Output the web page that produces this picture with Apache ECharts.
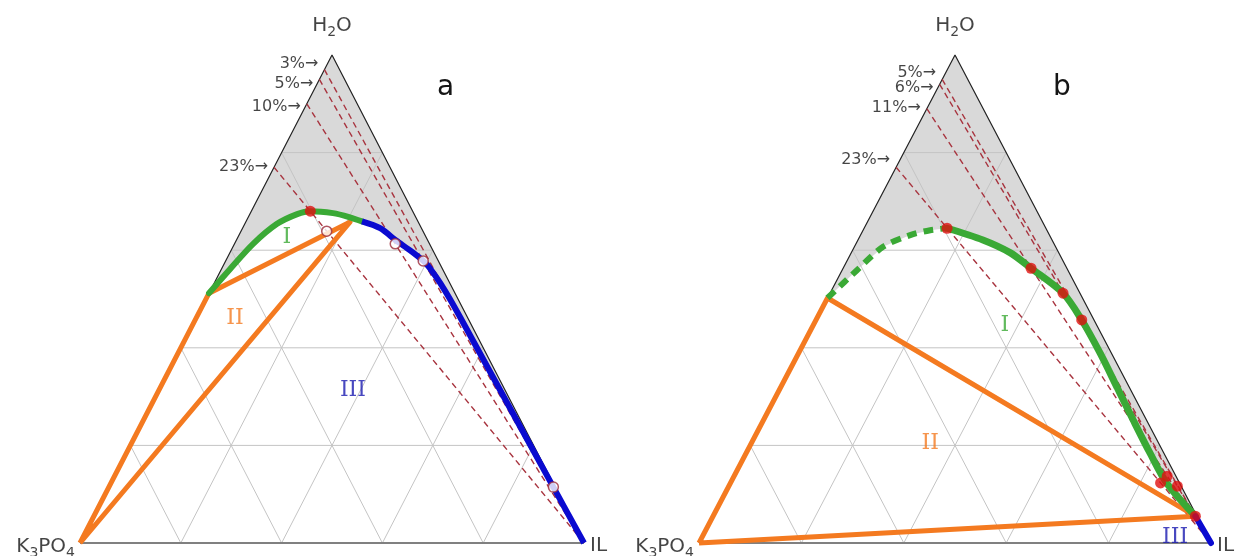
<!DOCTYPE html>
<html>
<head>
<meta charset="utf-8">
<script src="https://cdn.jsdelivr.net/npm/echarts@6/dist/echarts.min.js"></script>
<style>
  html, body { margin: 0; padding: 0; background: #fff; }
  #chart { width: 1243px; height: 556px; }
</style>
</head>
<body>
<div id="chart"></div>
<script>
  // compositions are [K3PO4 wt%, IL wt%], water = 100 - both
  const gridTicks = [20, 40, 60, 80];

  // panel a
  const feedA = [3, 5, 10, 23];
  const feedLabelsA = ['3%→', '5%→', '10%→', '23%→'];
  const greenA = [[48.8, 0], [42.2, 1.7], [35.0, 3.7], [28.2, 6.4], [23.2, 9.4], [20.3, 11.7], [16.0, 16.4], [13.2, 20.0], [11.1, 23.0]];
  const blueA = [[11.1, 23.0], [8.2, 27.3], [6.3, 31.7], [4.4, 35.8], [2.8, 39.7], [2.3, 42.0], [1.9, 44.8], [1.6, 48.5], [1.45, 52.2], [0.35, 88.2], [0, 100]];
  const threePhaseA = [[100, 0], [48.8, 0], [13.5, 20.7], [100, 0]];
  const redA = [[20.3, 11.7]];
  const openA = [[19.1, 17.0], [6.8, 31.9], [3.0, 39.2], [0.35, 88.2]];

  // panel b
  const feedB = [5, 6, 11, 23];
  const feedLabelsB = ['5%→', '6%→', '11%→', '23%→'];
  const greenDashB = [[49.8, 0], [41.2, 2.9], [33.7, 5.6], [27.2, 9.7], [22.8, 13.1], [19.3, 16.2]];
  const greenB = [[19.3, 16.2], [13.5, 24.4], [9.5, 31.0], [7.0, 36.7], [3.3, 45.5], [2.4, 51.9], [2.2, 58.9], [2.4, 65.7], [2.6, 72.2], [2.7, 78.9], [2.5, 85.3], [0.3, 94.2]];
  const blueB = [[0.3, 94.2], [0, 100]];
  const threePhaseB = [[100, 0], [49.8, 0], [0.3, 94.2], [100, 0]];
  const redB = [[19.3, 16.2], [7.0, 36.7], [3.3, 45.5], [2.4, 51.9], [3.7, 84.0], [1.7, 84.6], [0.75, 87.6], [0.3, 94.2]];

  // region numerals
  const regionNames = ['I', 'II', 'III'];
  const regionPosA = [[27.6, 9.7], [46.2, 7.7], [30.2, 38.5]];
  const regionPosB = [[17.9, 37.4], [44.6, 34.9], [6.4, 92.4]];

  const vertexNames = ['{n|H}{s|2}{n|O}', '{n|K}{s|3}{n|PO}{s|4}', '{n|IL}'];
  const vertexPos = [[0, 0], [100, 0], [0, 100]];

  // ternary -> cartesian (base 0..1, height 0..1)
  function tern(p) {
    const w = 100 - p[0] - p[1];
    return [(p[1] + w / 2) / 100, w / 100];
  }

  const GREEN = '#3aa935', ORANGE = '#f47a20', BLUE = '#0a0ad0', RED = '#e01010', DASH = '#a8343f';
  const FONT = 'DejaVu Sans';
  const TEXT = '#151515';

  function gridSegments() {
    const segs = [];
    gridTicks.forEach(t => {
      segs.push([[100 - t, 0], [0, 100 - t]]);   // constant water
      segs.push([[t, 0], [t, 100 - t]]);         // constant K3PO4
      segs.push([[0, t], [100 - t, t]]);         // constant IL
    });
    return segs.map(s => tern(s[0]).concat(tern(s[1])));
  }

  function segSeries(i, segs, style, z) {
    return {
      type: 'custom', xAxisIndex: i, yAxisIndex: i, z: z, silent: true, clip: false,
      dimensions: ['x1', 'y1', 'x2', 'y2'], encode: { x: [0, 2], y: [1, 3] },
      data: segs,
      renderItem: (params, api) => {
        const a = api.coord([api.value(0), api.value(1)]);
        const b = api.coord([api.value(2), api.value(3)]);
        return { type: 'line', shape: { x1: a[0], y1: a[1], x2: b[0], y2: b[1] }, style: style };
      }
    };
  }

  function fillSeries(i, curve) {
    const poly = [[0, 0], [0, 100]].concat(curve.slice().reverse());
    return {
      type: 'custom', xAxisIndex: i, yAxisIndex: i, z: 1, silent: true, clip: false,
      data: [[0.5, 0.5]],
      renderItem: (params, api) => ({
        type: 'polygon',
        shape: { points: poly.map(p => api.coord(tern(p))) },
        style: { fill: '#d9d9d9' }
      })
    };
  }

  function lineSeries(i, pts, style, z, smooth) {
    return {
      type: 'line', xAxisIndex: i, yAxisIndex: i, z: z, silent: true, clip: false,
      symbol: 'none', smooth: smooth || false,
      data: pts.map(tern), lineStyle: style
    };
  }

  function dotSeries(i, pts, item, z, size) {
    return {
      type: 'scatter', xAxisIndex: i, yAxisIndex: i, z: z, silent: true, clip: false,
      symbolSize: size, data: pts.map(tern), itemStyle: item
    };
  }

  function textSeries(i, items) {
    return {
      type: 'scatter', xAxisIndex: i, yAxisIndex: i, z: 20, silent: true, clip: false,
      symbolSize: 0,
      data: items.map(it => ({
        value: tern(it.p),
        label: Object.assign({ show: true, position: 'inside', formatter: it.text, fontFamily: FONT, color: TEXT }, it.label)
      }))
    };
  }

  const vertexRich = {
    n: { fontSize: 20, fontFamily: FONT, color: TEXT, lineHeight: 26 },
    s: { fontSize: 14, fontFamily: FONT, color: TEXT, lineHeight: 12, verticalAlign: 'bottom' }
  };

  function panel(i, o) {
    const s = [];
    s.push(fillSeries(i, o.curve));
    s.push(segSeries(i, gridSegments(), { stroke: '#c4c4c4', lineWidth: 1 }, 2));
    s.push(lineSeries(i, [[100, 0], [0, 0], [0, 100]], { color: '#222', width: 1.2 }, 3));
    s.push(lineSeries(i, [[100, 0], [0, 100]], { color: '#808080', width: 2 }, 3));
    o.feed.forEach(f => s.push(lineSeries(i, [[f, 0], [0, 100]], { color: DASH, width: 1.4, type: [6, 4] }, 4)));
    s.push(lineSeries(i, o.threePhase, { color: ORANGE, width: 5, join: 'round' }, 5));
    o.lines.forEach(l => s.push(lineSeries(i, l.pts, l.style, 6, 0.3)));
    s.push(dotSeries(i, o.red, { color: RED }, 8, 11));
    if (o.open) s.push(dotSeries(i, o.open, { color: '#fff', borderColor: '#9c2a3a', borderWidth: 1.5 }, 8, 10));

    const labels = [];
    const vlab = [
      { align: 'center', offset: [0, -29] },
      { align: 'right', offset: [-5, 4] },
      { align: 'left', offset: [6, 3] }
    ];
    vertexNames.forEach((n, k) => {
      labels.push({ p: vertexPos[k], text: n, label: Object.assign({ rich: vertexRich }, vlab[k]) });
    });
    o.feed.forEach((f, k) => {
      labels.push({ p: [f, 0], text: o.feedLabels[k], label: { fontSize: 16, align: 'right', offset: [-6, o.feedDy[k]] } });
    });
    const numColors = [GREEN, ORANGE, '#1a1ab0'];
    regionNames.forEach((n, k) => {
      labels.push({ p: o.region[k], text: n, label: { fontSize: 22, fontFamily: 'DejaVu Serif', color: numColors[k], align: 'center' } });
    });
    s.push(textSeries(i, labels));
    return s;
  }

  const series = [].concat(
    panel(0, {
      curve: greenA.concat(blueA), feed: feedA, feedLabels: feedLabelsA, feedDy: [-6, 4, 3, 0],
      threePhase: threePhaseA, red: redA, open: openA, region: regionPosA,
      lines: [
        { pts: greenA, style: { color: GREEN, width: 6, cap: 'round' } },
        { pts: blueA, style: { color: BLUE, width: 6 } }
      ]
    }),
    panel(1, {
      curve: greenDashB.concat(greenB).concat(blueB), feed: feedB, feedLabels: feedLabelsB, feedDy: [-7, 4, -1, -7],
      threePhase: threePhaseB, red: redB, region: regionPosB,
      lines: [
        { pts: greenDashB, style: { color: GREEN, width: 6, type: [10, 7] } },
        { pts: greenB, style: { color: GREEN, width: 7, cap: 'round' } },
        { pts: blueB, style: { color: BLUE, width: 6, cap: 'round' } }
      ]
    })
  );

  const chart = echarts.init(document.getElementById('chart'));
  chart.setOption({
    animation: false,
    grid: [
      { left: 80, top: 55, width: 504, height: 488 },
      { left: 699, top: 55, width: 512, height: 488 }
    ],
    xAxis: [0, 1].map(i => ({ type: 'value', gridIndex: i, min: 0, max: 1, show: false })),
    yAxis: [0, 1].map(i => ({ type: 'value', gridIndex: i, min: 0, max: 1, show: false })),
    graphic: [
      { type: 'text', x: 437, y: 74, style: { text: 'a', fontSize: 28, fontFamily: FONT, fill: TEXT } },
      { type: 'text', x: 1053, y: 74, style: { text: 'b', fontSize: 28, fontFamily: FONT, fill: TEXT } }
    ],
    series: series
  });
</script>
</body>
</html>
